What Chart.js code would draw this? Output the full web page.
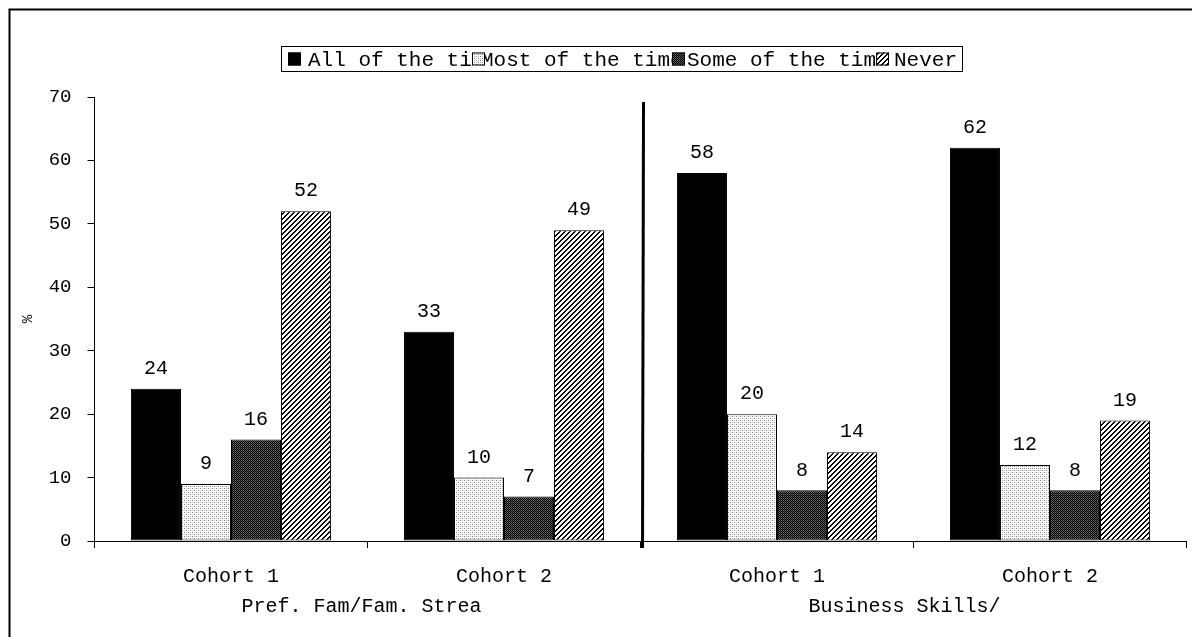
<!DOCTYPE html>
<html>
<head>
<meta charset="utf-8">
<script src="https://cdn.jsdelivr.net/npm/chart.js@4.4.1/dist/chart.umd.min.js"></script>
<style>
  html, body { margin: 0; padding: 0; background: #fff; }
  #wrap { width: 1192px; height: 637px; }
</style>
</head>
<body>
<div id="wrap"><canvas id="c" width="1192" height="637"></canvas></div>
<script>
// ---- data ----
const categories = ['Cohort 1', 'Cohort 2', 'Cohort 1', 'Cohort 2'];
const groupLabels = ['Pref. Fam/Fam. Strea', 'Business Skills/'];
const seriesNames = ['All of the time', 'Most of the time', 'Some of the time', 'Never'];
const allOfTheTime = [24, 33, 58, 62];
const mostOfTheTime = [9, 10, 20, 12];
const someOfTheTime = [16, 7, 8, 8];
const never = [52, 49, 14, 19];
const yTicks = [0, 10, 20, 30, 40, 50, 60, 70];
const yTitle = '%';

const FONT = "'Liberation Mono', 'Courier New', monospace";

// ---- fill patterns ----
function makePattern(size, painter) {
  const c = document.createElement('canvas');
  c.width = size; c.height = size;
  const g = c.getContext('2d');
  const img = g.createImageData(size, size);
  for (let py = 0; py < size; py++) {
    for (let px = 0; px < size; px++) {
      const v = painter(px, py);
      const i = (py * size + px) * 4;
      img.data[i] = v; img.data[i + 1] = v; img.data[i + 2] = v; img.data[i + 3] = 255;
    }
  }
  g.putImageData(img, 0, 0);
  return g.createPattern(c, 'repeat');
}
const ctxMain = document.getElementById('c').getContext('2d');
const solidBlack = '#000000';
// light stipple
const lightDots = makePattern(4, (x, y) => {
  if ((x === 0 && y === 0) || (x === 2 && y === 2)) return 120;
  if ((x === 2 && y === 0) || (x === 0 && y === 2)) return 190;
  return 255;
});
// dark stipple
const darkDots = makePattern(4, (x, y) => {
  if ((x + y) % 2 === 0) return 0;
  return (x % 2 === 1) ? 110 : 70;
});
// forward diagonal hatch
const diagHatch = makePattern(5, (x, y) => {
  const k = (x + y) % 5;
  return (k === 0 || k === 1) ? 0 : 255;
});
const fills = [solidBlack, lightDots, darkDots, diagHatch];
const seriesValues = [allOfTheTime, mostOfTheTime, someOfTheTime, never];

// ---- plugin: frame, divider, value labels, group labels, legend ----
const decorations = {
  id: 'decorations',
  afterDatasetsDraw(chart) {
    const { ctx } = chart;
    ctx.save();
    ctx.fillStyle = '#000';
    ctx.font = '20px ' + FONT;
    ctx.textAlign = 'center';
    ctx.textBaseline = 'middle';
    chart.data.datasets.forEach((ds, di) => {
      const meta = chart.getDatasetMeta(di);
      meta.data.forEach((bar, i) => {
        ctx.fillText(String(ds.data[i]), bar.x, bar.y - 20);
      });
    });
    ctx.restore();
  },
  afterDraw(chart) {
    const { ctx, chartArea, scales: { x } } = chart;
    ctx.save();
    // outer frame
    ctx.strokeStyle = '#000';
    ctx.lineWidth = 2;
    ctx.beginPath();
    ctx.moveTo(9.5, 637);
    ctx.lineTo(9.5, 9.5);
    ctx.lineTo(1192, 9.5);
    ctx.stroke();

    // divider between the two groups
    const half = (x.getPixelForTick(1) + x.getPixelForTick(2)) / 2;
    ctx.lineWidth = 3;
    ctx.beginPath();
    ctx.moveTo(half + 3, chartArea.top + 5);
    ctx.lineTo(half + 2, chartArea.bottom + 7);
    ctx.stroke();

    // group labels under the category labels
    ctx.font = '20px ' + FONT;
    ctx.fillStyle = '#000';
    ctx.textAlign = 'center';
    ctx.textBaseline = 'middle';
    const g1 = (x.getPixelForTick(0) + x.getPixelForTick(1)) / 2;
    const g2 = (x.getPixelForTick(2) + x.getPixelForTick(3)) / 2;
    ctx.fillText(groupLabels[0], g1 - 6, 607);
    ctx.fillText(groupLabels[1], g2 - 9, 607);

    // legend
    const lx0 = 281, lx1 = 963, ly0 = 46, ly1 = 72;
    ctx.fillStyle = '#fff';
    ctx.fillRect(lx0, ly0, lx1 - lx0, ly1 - ly0);
    const boxX = [288, 472, 672, 876];
    const textX = [308, 481, 687, 894];
    const boxSize = 13;
    const cy = (ly0 + ly1) / 2;
    ctx.font = '21px ' + FONT;
    ctx.textAlign = 'left';
    for (let i = 0; i < seriesNames.length; i++) {
      const clipRight = i + 1 < seriesNames.length ? boxX[i + 1] : lx1 - 1;
      ctx.save();
      ctx.beginPath();
      ctx.rect(textX[i], ly0, clipRight - textX[i], ly1 - ly0);
      ctx.clip();
      ctx.fillStyle = '#000';
      ctx.fillText(seriesNames[i], textX[i], cy + 1);
      ctx.restore();
      ctx.fillStyle = fills[i];
      ctx.fillRect(boxX[i], cy - boxSize / 2, boxSize, boxSize);
      ctx.strokeStyle = '#000';
      ctx.lineWidth = 1;
      ctx.strokeRect(boxX[i] + 0.5, cy - boxSize / 2 + 0.5, boxSize - 1, boxSize - 1);
    }
    ctx.strokeStyle = '#000';
    ctx.lineWidth = 1;
    ctx.strokeRect(lx0 + 0.5, ly0 + 0.5, lx1 - lx0 - 1, ly1 - ly0 - 1);
    ctx.restore();
  }
};

Chart.defaults.font.family = FONT;
Chart.defaults.color = '#000';

new Chart(ctxMain, {
  type: 'bar',
  data: {
    labels: categories,
    datasets: seriesNames.map((name, i) => ({
      label: name,
      data: seriesValues[i],
      backgroundColor: fills[i],
      borderColor: '#000',
      borderWidth: 1,
      borderSkipped: false,
      categoryPercentage: 0.733,
      barPercentage: 1.0
    }))
  },
  options: {
    responsive: false,
    animation: false,
    devicePixelRatio: 1,
    layout: { padding: { left: 0, top: 97, right: 5.5, bottom: 0 } },
    plugins: {
      legend: { display: false },
      tooltip: { enabled: false }
    },
    scales: {
      x: {
        offset: true,
        grid: { offset: true, drawOnChartArea: false, tickLength: 7, color: '#000', lineWidth: 1 },
        border: { display: true, color: '#000', width: 1 },
        ticks: { font: { size: 20, family: FONT }, color: '#000', padding: 17, maxRotation: 0 },
        afterFit(scale) { scale.height = 96; }
      },
      y: {
        min: 0,
        max: 70,
        afterBuildTicks(scale) { scale.ticks = yTicks.map(v => ({ value: v })); },
        grid: { drawOnChartArea: false, tickLength: 7, color: '#000', lineWidth: 1 },
        border: { display: true, color: '#000', width: 1 },
        ticks: { font: { size: 19, family: FONT }, color: '#000', padding: 16 },
        title: { display: true, text: yTitle, font: { size: 14, family: FONT }, color: '#000', padding: { top: 20, bottom: 0 } },
        afterFit(scale) { scale.width = 94.5; }
      }
    }
  },
  plugins: [decorations]
});
</script>
</body>
</html>
